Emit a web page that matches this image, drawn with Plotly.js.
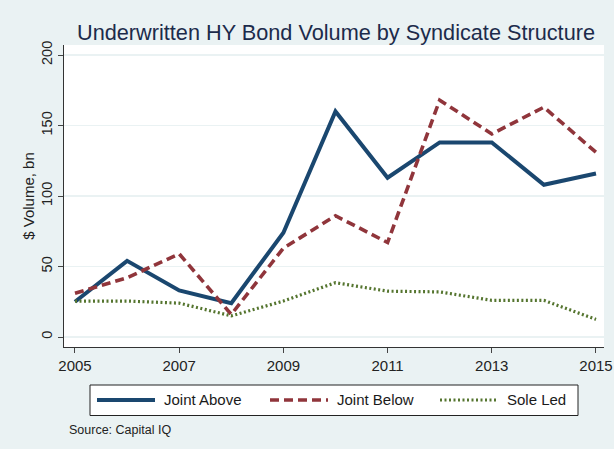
<!DOCTYPE html>
<html>
<head>
<meta charset="utf-8">
<script src="https://cdn.plot.ly/plotly-3.0.1.min.js"></script>
<style>html,body{margin:0;padding:0;background:#eaf2f3;}#chart{width:614px;height:449px;}</style>
</head>
<body>
<div id="chart"></div>
<script>
// ---- data ----
const years = [2005, 2006, 2007, 2008, 2009, 2010, 2011, 2012, 2013, 2014, 2015];
const jointAbove = [25, 54, 33, 24, 74, 160, 113, 138, 138, 108, 116];
const jointBelow = [31, 42, 59, 16, 63, 86, 67, 168, 144, 163, 131];
const soleLed = [25.5, 25.5, 24, 15, 25.5, 38.5, 32.5, 32, 26, 26, 12.5];
const seriesNames = ["Joint Above", "Joint Below", "Sole Led"];
const xTickVals = [2005, 2007, 2009, 2011, 2013, 2015];
const yTickVals = [0, 50, 100, 150, 200];

// ---- styles ----
const seriesValues = [jointAbove, jointBelow, soleLed];
const colors = ["#1a476f", "#90353b", "#55752f"];
const dashes = ["solid", "9px,5px", "2px,2.5px"];
const widths = [4, 3.6, 3.2];
const font = "Liberation Sans, Arial, sans-serif";

const traces = seriesValues.map((vals, i) => ({
  x: years, y: vals, type: "scatter", mode: "lines", name: seriesNames[i],
  line: {color: colors[i], width: widths[i], dash: dashes[i]},
  showlegend: false, hoverinfo: "skip"
}));

// custom legend (paper coords: x=(px-64)/540, y=(347-py)/302)
const px = v => (v - 64) / 540, py = v => (347 - v) / 302;
const sampleStarts = [97, 270, 440];
const shapes = [{type: "rect", xref: "paper", yref: "paper",
  x0: px(90), x1: px(578), y0: py(415.5), y1: py(385),
  line: {color: "#222", width: 1}, fillcolor: "#ffffff"}];
const annotations = [];
seriesNames.forEach((n, i) => {
  shapes.push({type: "line", xref: "paper", yref: "paper",
    x0: px(sampleStarts[i]), x1: px(sampleStarts[i] + 58), y0: py(400), y1: py(400),
    line: {color: colors[i], width: widths[i], dash: dashes[i]}});
  annotations.push({xref: "paper", yref: "paper", x: px(sampleStarts[i] + 65), y: py(400),
    xanchor: "left", yanchor: "middle", text: n, showarrow: false,
    font: {family: font, size: 15, color: "#1a1a1a"}});
});
annotations.push({xref: "paper", yref: "paper", x: px(67), y: py(430), xanchor: "left", yanchor: "middle",
  text: "Source: Capital IQ", showarrow: false, font: {family: font, size: 12.5, color: "#222"}});

const layout = {
  width: 614, height: 449,
  margin: {l: 64, r: 10, t: 45, b: 102},
  paper_bgcolor: "#eaf2f3", plot_bgcolor: "#ffffff",
  font: {family: font, color: "#222"},
  title: {text: "Underwritten HY Bond Volume by Syndicate Structure", x: px(336), xref: "paper",
    xanchor: "center", y: (449 - 32) / 449, yref: "container", yanchor: "middle",
    font: {family: font, size: 21.7, color: "#1c2b4b"}},
  xaxis: {range: [2004.789, 2015.154], tickvals: xTickVals, ticks: "outside", ticklen: 5,
    tickcolor: "#444", showgrid: false, zeroline: false, showline: true, linecolor: "#333",
    linewidth: 1, tickfont: {family: font, size: 15, color: "#222"}, fixedrange: true},
  yaxis: {range: [-7.09, 207.1], tickvals: yTickVals, ticks: "outside", ticklen: 5,
    tickcolor: "#444", tickangle: -90, showgrid: true, gridcolor: "#eaf2f3", gridwidth: 1.5,
    zeroline: false, showline: true, linecolor: "#333", linewidth: 1,
    tickfont: {family: font, size: 14.5, color: "#222"},
    title: {text: "$ Volume, bn", font: {family: font, size: 15, color: "#222"}, standoff: 0},
    automargin: false, fixedrange: true},
  shapes: shapes, annotations: annotations
};

Plotly.newPlot("chart", traces, layout, {displayModeBar: false, staticPlot: true});
</script>
</body>
</html>
